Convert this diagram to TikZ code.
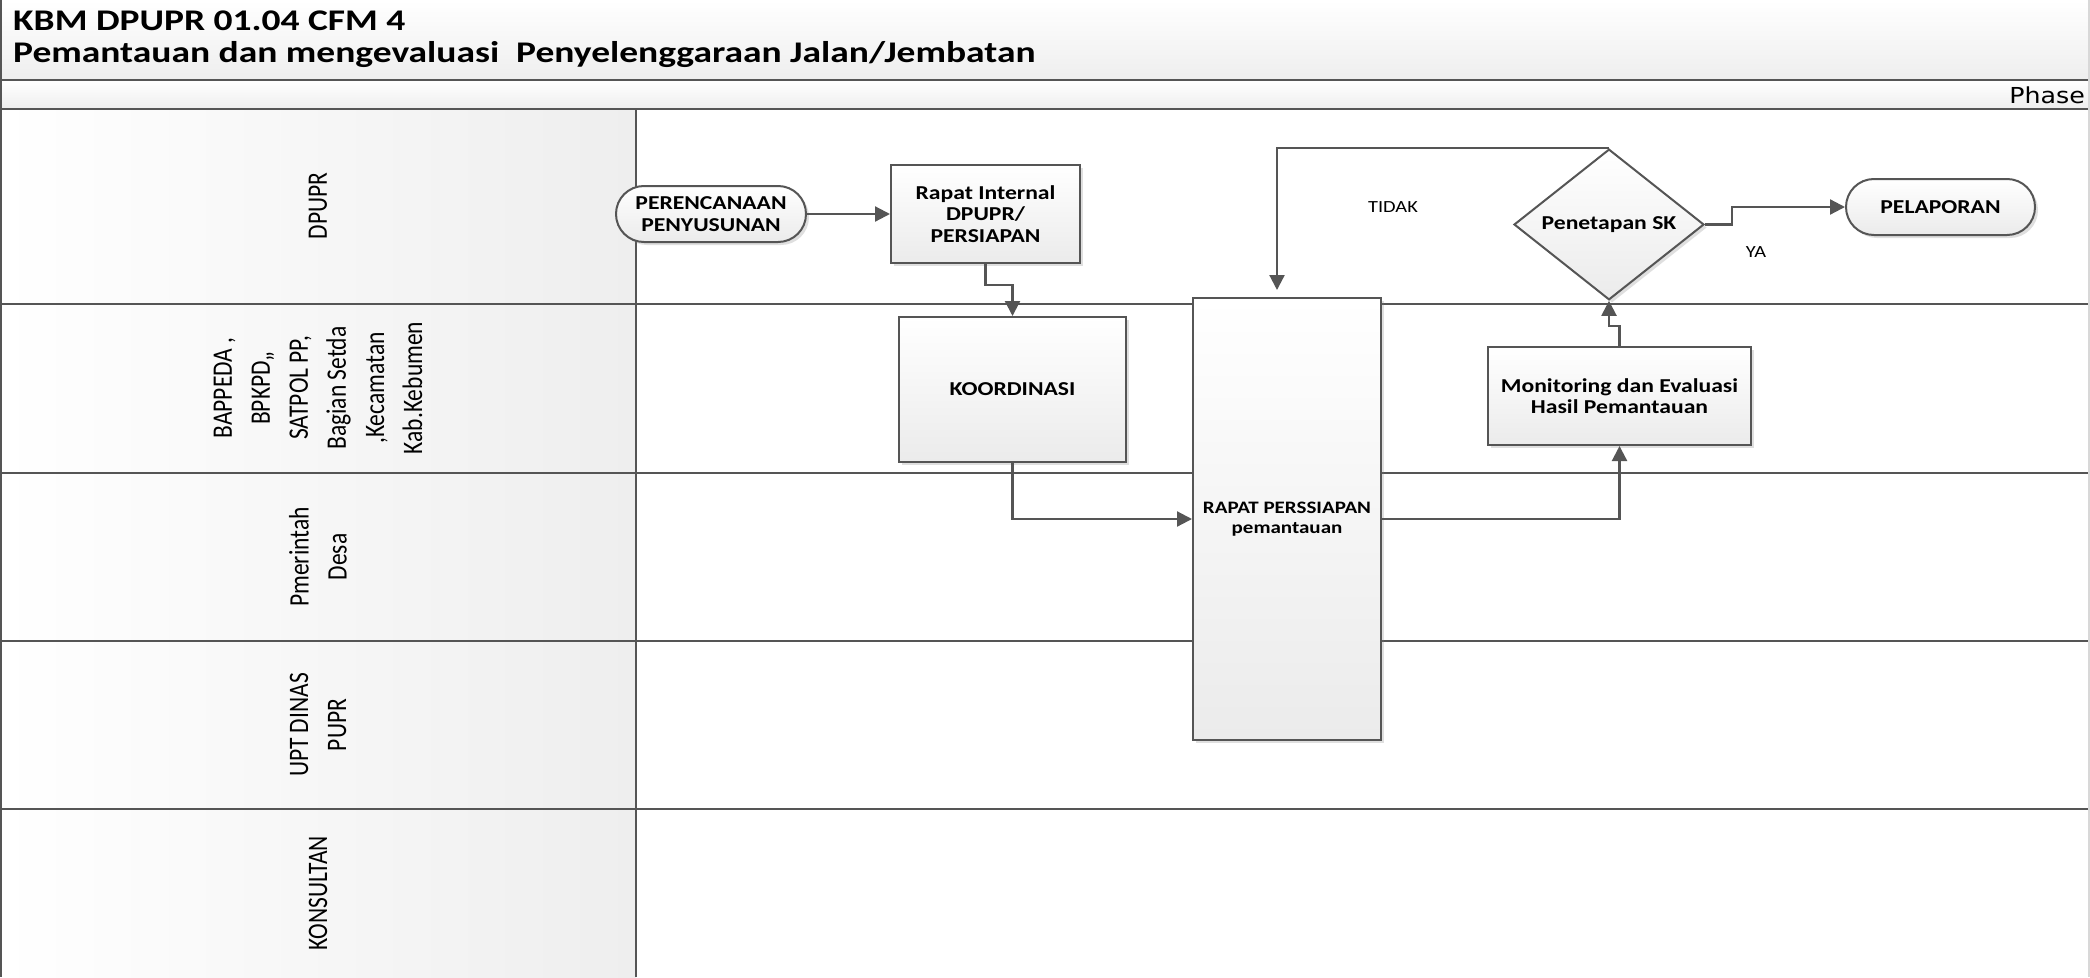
\documentclass[tikz,border=0pt]{standalone}
\usepackage{fontspec}
\setmainfont{Carlito}
\newfontfamily\titlefont[FakeStretch=1.25]{Carlito}
\newfontfamily\nodefont[FakeStretch=1.2]{Carlito}
\newfontfamily\phasefont[FakeStretch=1.15]{DejaVu Sans}
\usetikzlibrary{shapes.geometric,arrows.meta,shadows}
\definecolor{lncol}{HTML}{555555}
\definecolor{boxbot}{HTML}{EBEBEB}
\definecolor{colgray}{HTML}{EEEEEE}
\definecolor{edgegray}{HTML}{D8D8D8}
\tikzset{
  laneline/.style={draw=lncol, line width=2pt},
  conn/.style={draw=lncol, line width=2.2pt, -{Triangle[length=15pt,width=15pt]}},
  boxbase/.style={draw=lncol, line width=2pt, top color=white, bottom color=boxbot,
    drop shadow={shadow xshift=3pt, shadow yshift=-3pt, opacity=0.25},
    inner sep=0pt, align=center,
    font=\nodefont\bfseries\fontsize{19.7}{21.5}\selectfont},
  procbox/.style={boxbase, rectangle},
  termbox/.style={boxbase, rectangle, rounded corners=27.9pt},
  decbox/.style={boxbase, diamond},
  lanelabel/.style={inner sep=0pt, align=center},
  smalllabel/.style={inner sep=0pt, font=\nodefont\fontsize{17}{19}\selectfont}
}
\newcommand{\lanetext}[1]{\scalebox{1.2}[1]{\rotatebox{90}{\parbox{220pt}{\centering\fontsize{23.5}{31.7}\selectfont #1}}}}
\begin{document}
\begin{tikzpicture}[x=1pt,y=-1pt]
\useasboundingbox (0,0) rectangle (2090,977);
\fill[white] (0,0) rectangle (2090,977);
% title bar
\shade[top color=white, bottom color=colgray] (0,0) rectangle (2090,80);
\shade[top color=white, bottom color=colgray] (0,80) rectangle (2090,109);
% label column
\shade[left color=white, right color=colgray] (0,109) rectangle (636,977);
% lines
\draw[laneline] (0,80) -- (2090,80);
\draw[laneline] (0,109) -- (2090,109);
\draw[laneline] (0,304) -- (2090,304);
\draw[laneline] (0,473) -- (2090,473);
\draw[laneline] (0,641) -- (2090,641);
\draw[laneline] (0,809) -- (2090,809);
\draw[laneline] (636,109) -- (636,977);
\draw[laneline] (1,0) -- (1,977);
\draw[draw=edgegray, line width=1.5pt] (2089,0) -- (2089,977);

% title
\node[anchor=west, inner sep=0pt, font=\titlefont\bfseries\fontsize{30}{34}\selectfont] (t1) at (13,21) {KBM DPUPR 01.04 CFM 4};
\node[anchor=west, inner sep=0pt, font=\titlefont\bfseries\fontsize{30}{34}\selectfont] (t2) at (13,55) {Pemantauan dan mengevaluasi\ \ Penyelenggaraan Jalan/Jembatan};
\node[anchor=east, inner sep=0pt, font=\phasefont\fontsize{22}{24}\selectfont] (phase) at (2085,95) {Phase};

% lane labels
\node[lanelabel] (l1) at (318,206) {\lanetext{DPUPR}};
\node[lanelabel] (l2) at (318,388) {\lanetext{BAPPEDA ,\\BPKPD,,\\SATPOL PP,\\Bagian Setda\\,Kecamatan\\Kab.Kebumen}};
\node[lanelabel] (l3) at (318,557) {\lanetext{Pmerintah\\Desa}};
\node[lanelabel] (l4) at (318,725) {\lanetext{UPT DINAS\\PUPR}};
\node[lanelabel] (l5) at (318,893) {\lanetext{KONSULTAN}};

% nodes
\node[termbox, minimum width=190pt, minimum height=56pt] (peren) at (711,214) {PERENCANAAN\\PENYUSUNAN};
\node[procbox, minimum width=189pt, minimum height=98pt] (rapat) at (985.5,214) {Rapat Internal\\DPUPR/\\PERSIAPAN};
\node[procbox, minimum width=227pt, minimum height=145pt] (koord) at (1012.5,389.5) {KOORDINASI};
\node[procbox, minimum width=188pt, minimum height=442pt, font=\nodefont\bfseries\fontsize{17.5}{19.5}\selectfont] (rapat2) at (1287,519) {RAPAT PERSSIAPAN\\pemantauan};
\node[decbox, minimum width=190pt, minimum height=145pt] (dia) at (1609,224.5) {Penetapan SK};
\node[procbox, minimum width=263pt, minimum height=98pt] (mon) at (1619.5,396) {Monitoring dan Evaluasi\\Hasil Pemantauan};
\node[termbox, minimum width=189pt, minimum height=56pt] (pel) at (1940.5,207) {PELAPORAN};
\coordinate (tidakend) at (1277,290);

% labels
\node[smalllabel] (tidak) at (1393,207) {TIDAK};
\node[smalllabel] (ya) at (1756,252) {YA};

% connectors
\draw[conn] (peren.east) -- (rapat.west);
\draw[conn] (rapat.south) -- ++(0,21) -| (koord.north);
\draw[conn] (koord.south) |- (rapat2.west);
\draw[conn] (rapat2.east) -| (mon.south);
\draw[conn] (mon.north) -- ++(0,-20) -| (dia.south);
\draw[conn] (dia.north) -| (tidakend);
\draw[conn] (dia.east) -- ++(27,0) |- (pel.west);
\end{tikzpicture}
\end{document}
